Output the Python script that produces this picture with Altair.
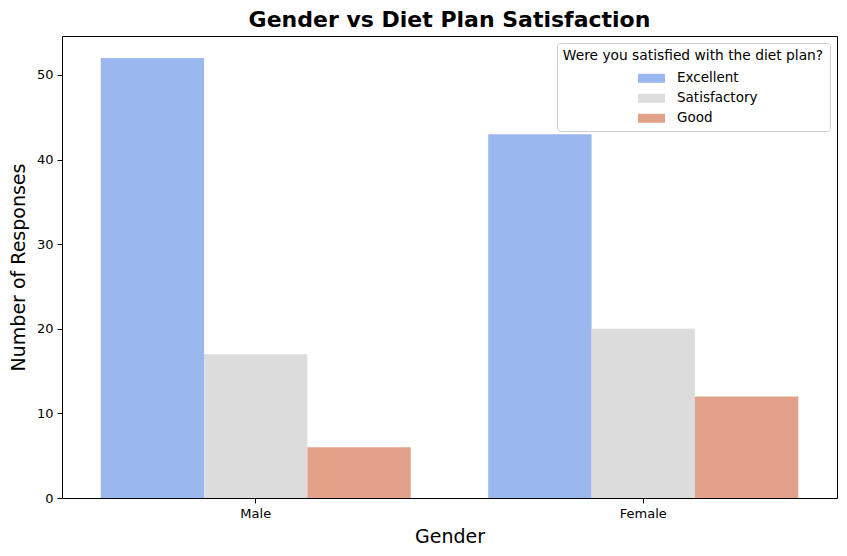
import altair as alt
import pandas as pd

genders = ["Male", "Female"]
ratings = ["Excellent", "Satisfactory", "Good"]
male_counts = [52, 17, 6]
female_counts = [43, 20, 12]
colors = ["#9bb7f0", "#dcdcdc", "#e4a189"]

rows = []
for g, counts in zip(genders, [male_counts, female_counts]):
    for r, c in zip(ratings, counts):
        rows.append({"Gender": g, "Rating": r, "Count": c})
df = pd.DataFrame(rows)

FONT = "DejaVu Sans"

chart = alt.Chart(df).mark_bar().encode(
    x=alt.X("Gender:N", sort=genders, title="Gender",
            scale=alt.Scale(paddingInner=0.2, paddingOuter=0.1),
            axis=alt.Axis(labelAngle=0, titleFontSize=19, titleFontWeight="normal",
                          labelFontSize=13, titlePadding=7, labelPadding=4,
                          grid=False, domain=False)),
    xOffset=alt.XOffset("Rating:N", sort=ratings,
                        scale=alt.Scale(paddingInner=0, paddingOuter=0)),
    y=alt.Y("Count:Q", title="Number of Responses",
            scale=alt.Scale(domain=[0, 54.6], nice=False),
            axis=alt.Axis(values=[0, 10, 20, 30, 40, 50], titleFontSize=19,
                          titleFontWeight="normal", labelFontSize=13,
                          titlePadding=8, labelPadding=4,
                          grid=False, domain=False)),
    color=alt.Color("Rating:N", sort=ratings,
                    scale=alt.Scale(domain=ratings, range=colors),
                    legend=alt.Legend(
                        title="Were you satisfied with the diet plan?",
                        orient="none", legendX=495, legendY=7,
                        titleAnchor="middle", titleFontSize=13.8, titleLimit=400,
                        titleFontWeight="normal", titleColor="black",
                        labelFontSize=13.5, labelColor="black",
                        symbolType="M-1,-0.333H1V0.333H-1Z", symbolSize=729,
                        symbolStrokeWidth=0, symbolOpacity=1,
                        symbolOffset=10, rowPadding=0, labelOffset=12,
                        strokeColor="#cccccc", fillColor="white",
                        padding=6, cornerRadius=3, titlePadding=2)),
).properties(
    width=775, height=462,
    background="white",
    title=alt.Title("Gender vs Diet Plan Satisfaction", fontSize=22,
                    fontWeight="bold", font=FONT, color="black", offset=4),
    autosize="none",
    padding={"left": 54, "top": 28, "right": 2, "bottom": 50},
).configure_view(
    stroke="black", strokeWidth=1
).configure_axis(
    grid=False, domain=False, tickColor="black", tickSize=5,
    labelColor="black", titleColor="black", labelFont=FONT, titleFont=FONT
).configure_legend(
    labelFont=FONT, titleFont=FONT
)

chart.save("out.html", embed_options={"renderer": "svg", "actions": False})
